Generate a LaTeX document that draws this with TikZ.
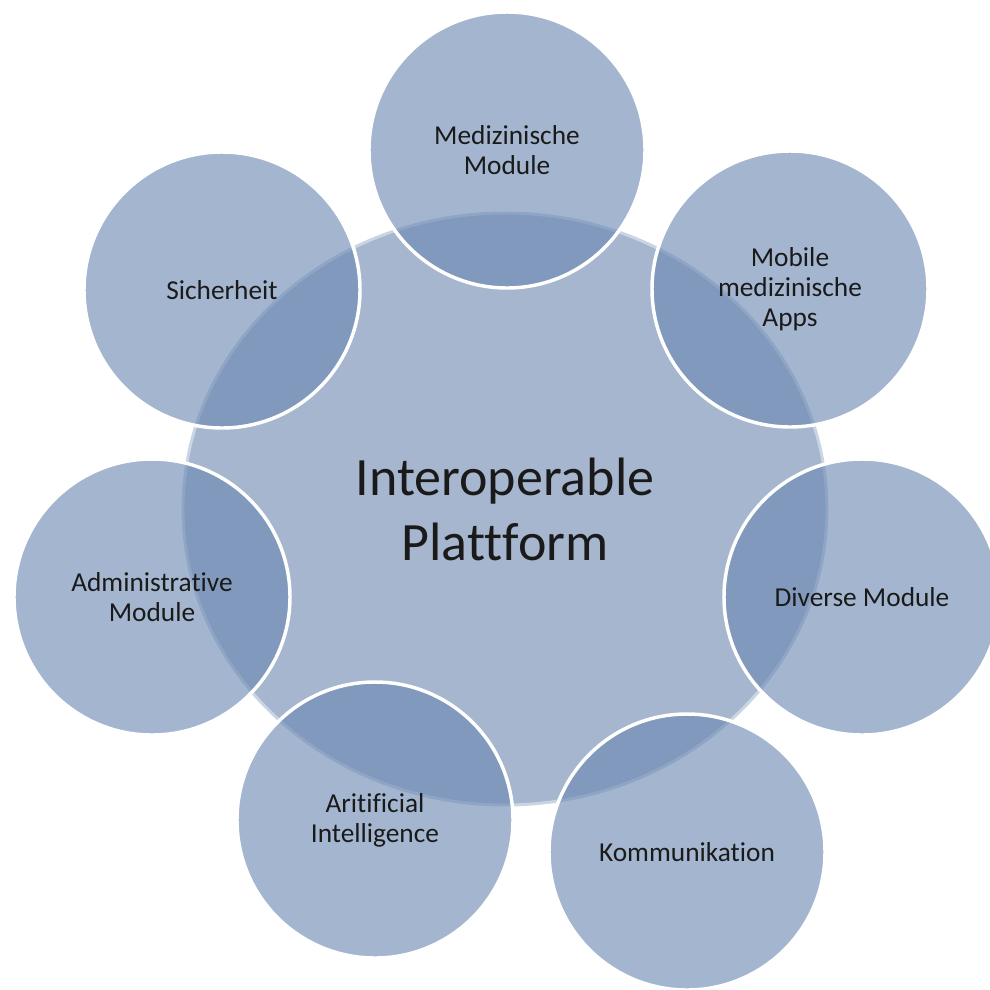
\documentclass[tikz,border=0pt]{standalone}
\usepackage{fontspec}
\setmainfont{Carlito}[Ligatures=NoCommon]
\usetikzlibrary{shapes.geometric}
\definecolor{mainfill}{HTML}{A7B6CF}
\definecolor{satfill}{RGB}{104,134,176}
\definecolor{rimcol}{HTML}{C9D5E5}
\definecolor{txt}{HTML}{1A1A1A}
\begin{document}
\begin{tikzpicture}[x=0.75pt,y=-0.75pt,
 hub/.style={ellipse, fill=mainfill, draw=rimcol, line width=2.2pt,
   minimum width=483pt, minimum height=444pt, inner sep=0pt, align=center,
   text=txt, font=\fontsize{40.5}{48.75}\selectfont},
 sat/.style={circle, fill=satfill, fill opacity=0.6, text opacity=1,
   draw=white, draw opacity=1, line width=2.6pt, minimum size=207pt,
   inner sep=0pt, align=center, text=txt,
   font=\fontsize{20.5}{22.5}\selectfont}]
\clip (0,0) rectangle (990,990);
\fill[white] (0,0) rectangle (990,990);
\node[hub] (hub) at (505,509) {Interoperable\\Plattform};
\node[sat] (med)  at (507,150) {Medizinische\\Module};
\node[sat] (mob)  at (790,289) {Mobile\\medizinische\\Apps};
\node[sat] (div)  at (862,597) {Diverse Module};
\node[sat] (kom)  at (687,852) {Kommunikation};
\node[sat] (ai)   at (375,820) {Aritificial\\Intelligence};
\node[sat] (adm)  at (152,597) {Administrative\\Module};
\node[sat] (sich) at (222,290) {Sicherheit};
\end{tikzpicture}
\end{document}
